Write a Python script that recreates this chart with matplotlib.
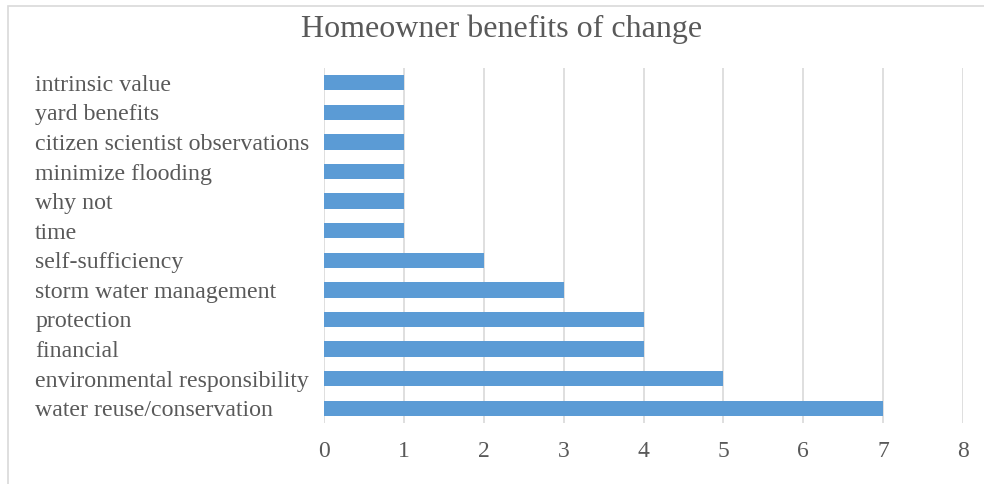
import matplotlib.pyplot as plt
from matplotlib.patches import Rectangle

# benefits listed bottom to top
benefits = ['water reuse/conservation', 'environmental responsibility', 'financial',
            'protection', 'storm water management', 'self-sufficiency', 'time',
            'why not', 'minimize flooding', 'citizen scientist observations',
            'yard benefits', 'intrinsic value']
counts = [7, 5, 4, 4, 3, 2, 1, 1, 1, 1, 1, 1]
xticks = [0, 1, 2, 3, 4, 5, 6, 7, 8]

plt.rcParams['font.family'] = ['Liberation Serif', 'DejaVu Serif']
txt = '#595959'

fig = plt.figure(figsize=(9.84, 4.84), dpi=100)
ax = fig.add_axes([0.3293, 0.126, 0.6494, 0.7335])

# light frame around the chart area
fig.patches.append(Rectangle((8 / 984, -0.1), 1.2, 1 - 5.5 / 484 + 0.1,
                             transform=fig.transFigure, fill=False,
                             edgecolor='#d9d9d9', linewidth=1.2))

pos = range(len(benefits))
ax.barh(pos, counts, height=0.52, color='#5b9bd5', zorder=3)

ax.set_xlim(0, 8)
ax.set_ylim(-0.5, len(benefits) - 0.5)
ax.set_xticks(xticks)
ax.set_xticklabels([str(v) for v in xticks])
ax.set_yticks(list(pos))
ax.set_yticklabels(benefits)
ax.grid(axis='x', color='#d9d9d9', linewidth=1.2, zorder=0)
for s in ax.spines.values():
    s.set_visible(False)

ax.tick_params(axis='x', length=0, pad=13, labelsize=17, labelcolor=txt)
ax.tick_params(axis='y', length=0, pad=208, labelsize=17.2, labelcolor=txt)
for lab in ax.get_yticklabels():
    lab.set_horizontalalignment('left')

fig.text(0.51, 0.94, 'Homeowner benefits of change', ha='center', va='center',
         fontsize=23, color=txt)

plt.savefig('out.png', dpi=100)
plt.close()
